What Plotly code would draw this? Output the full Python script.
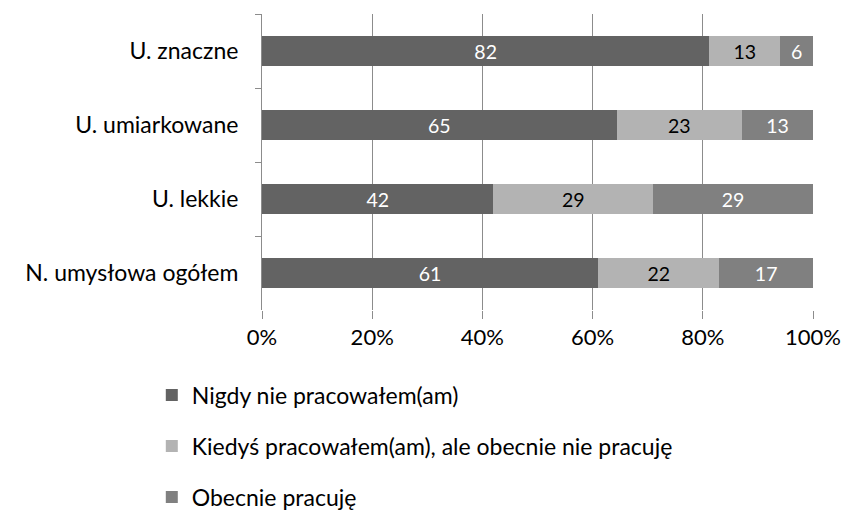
import plotly.graph_objects as go

categories = ["U. znaczne", "U. umiarkowane", "U. lekkie", "N. umysłowa ogółem"]
series_names = [
    "Nigdy nie pracowałem(am)",
    "Kiedyś pracowałem(am), ale obecnie nie pracuję",
    "Obecnie pracuję",
]
never_worked = [82, 65, 42, 61]
worked_before = [13, 23, 29, 22]
working_now = [6, 13, 29, 17]
x_ticks = [0, 20, 40, 60, 80, 100]

colors = ["#636363", "#b3b3b3", "#808080"]
text_colors = ["white", "black", "white"]
font = "Lato, Open Sans, sans-serif"

fig = go.Figure()
for i, (name, vals) in enumerate(zip(series_names, [never_worked, worked_before, working_now])):
    fig.add_trace(go.Bar(
        y=categories,
        x=vals,
        name=name,
        orientation="h",
        marker=dict(color=colors[i], line=dict(width=0)),
        text=vals,
        textposition="inside",
        insidetextanchor="middle",
        textangle=0,
        textfont=dict(color=text_colors[i], size=22, family=font),
        legendgroup=str(i),
    ))

fig.update_layout(
    width=845,
    height=510,
    barmode="stack",
    barnorm="percent",
    bargap=0.595,
    plot_bgcolor="white",
    paper_bgcolor="white",
    font=dict(family=font, size=23, color="black"),
    margin=dict(l=262, r=32, t=14, b=200, autoexpand=False),
    showlegend=True,
    legend=dict(
        orientation="v",
        x=-0.2,
        xanchor="left",
        y=-0.215,
        yanchor="top",
        traceorder="grouped",
        tracegroupgap=18,
        font=dict(size=23, family=font),
    ),
    uniformtext=dict(minsize=10, mode="show"),
)

fig.update_xaxes(
    range=[0, 100],
    tickvals=x_ticks,
    ticktext=[f"{v}%" for v in x_ticks],
    showgrid=True,
    gridcolor="#8c8c8c",
    gridwidth=1,
    zeroline=False,
    showline=False,
    ticks="outside",
    ticklen=8,
    tickcolor="#8c8c8c",
    tickfont=dict(size=22),
)
fig.update_yaxes(
    autorange="reversed",
    showline=True,
    linecolor="#8c8c8c",
    linewidth=1,
    ticks="outside",
    tickson="boundaries",
    ticklen=6,
    tickcolor="#8c8c8c",
    showgrid=False,
    ticklabelstandoff=18,
    tickfont=dict(size=23),
)

# drop the default page margin so the figure fills the window exactly
fig.write_html(
    "out.html",
    config={"displayModeBar": False},
    post_script="document.body.style.margin='0';document.body.style.overflow='hidden';",
)
